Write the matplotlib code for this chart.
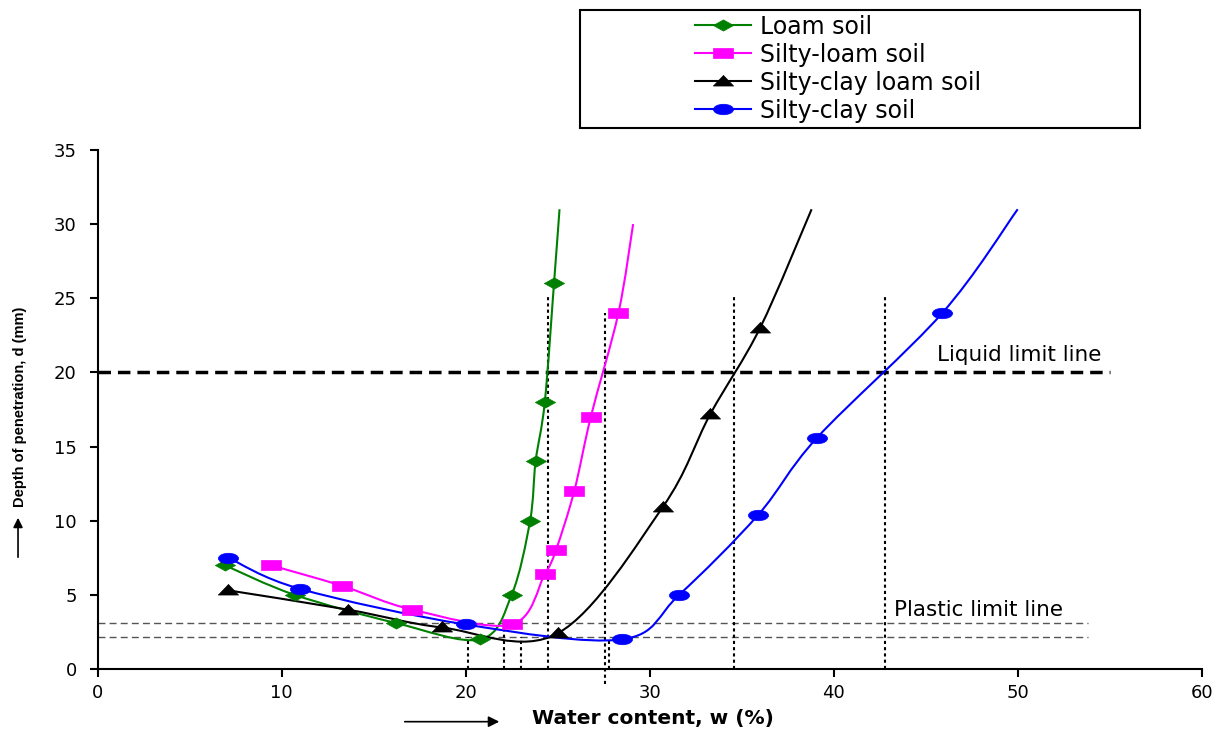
import numpy as np
import matplotlib
matplotlib.use('Agg')
import matplotlib.pyplot as plt
from matplotlib.path import Path
from matplotlib.patches import PathPatch, Rectangle
from matplotlib.lines import Line2D
from matplotlib.transforms import Affine2D

plt.rcParams['font.family'] = ['DejaVu Sans']

# measured points (water content %, penetration mm) + unmarked end of each fitted curve
loam_w = [6.9, 10.7, 16.2, 20.8, 22.5, 23.5, 23.8, 24.3, 24.8]
loam_d = [7.0, 5.0, 3.1, 2.0, 5.0, 10.0, 14.0, 18.0, 26.0]
loam_end = (25.1, 31.0)

siltloam_w = [9.4, 13.3, 17.1, 22.5, 24.3, 24.9, 25.9, 26.8, 28.3]
siltloam_d = [7.0, 5.6, 4.0, 3.0, 6.4, 8.0, 12.0, 17.0, 24.0]
siltloam_end = (29.1, 30.0)

siltclayloam_w = [7.1, 13.6, 18.7, 25.0, 30.7, 33.3, 36.0]
siltclayloam_d = [5.3, 4.0, 2.8, 2.4, 10.9, 17.2, 23.0]
siltclayloam_end = (38.8, 31.0)

siltclay_w = [7.1, 11.0, 20.0, 28.5, 31.6, 35.9, 39.1, 45.9]
siltclay_d = [7.5, 5.4, 3.0, 2.0, 5.0, 10.4, 15.6, 24.0]
siltclay_end = (50.0, 31.0)

labels = ['Loam soil', 'Silty-loam soil', 'Silty-clay loam soil', 'Silty-clay soil']

# reference lines
liquid_limit = 20
liquid_xmax = 55
plastic_levels = [3.1, 2.15]
plastic_xmax = 53.8
# (w, top, bottom) of the dotted read-off lines
readoff = [(20.15, 2.15, 0), (22.1, 3.1, 0), (23.0, 2.15, 0), (24.5, 25.1, 0),
           (27.55, 24.0, -1.0), (27.8, 2.0, 0), (34.6, 25.1, 0), (42.8, 25.1, 0)]

# markers are squashed (wide) in the original
diamond = Path([(-1.8, 0), (0, 1), (1.8, 0), (0, -1), (-1.8, 0)])
square = Path([(-1, -0.5), (1, -0.5), (1, 0.5), (-1, 0.5), (-1, -0.5)])
triangle = Path([(-1, -0.45), (1, -0.45), (0, 0.6), (-1, -0.45)])
ellipse = Path.unit_circle().transformed(Affine2D().scale(1.0, 0.52))
MS = 14.5


def smooth_path(xs, ys):
    # Excel-like smoothed line: cubic bezier segments through every point
    pts = np.column_stack([xs, ys])
    n = len(pts)
    verts, codes = [pts[0]], [Path.MOVETO]
    for i in range(n - 1):
        p0, p1, p2, p3 = pts[max(i - 1, 0)], pts[i], pts[i + 1], pts[min(i + 2, n - 1)]
        verts += [p1 + (p2 - p0) / 6, p2 - (p3 - p1) / 6, p2]
        codes += [Path.CURVE4] * 3
    return Path(verts, codes)


fig = plt.figure(figsize=(12.18, 7.30), dpi=100)
ax = fig.add_axes([0.0802, 0.0836, 0.9064, 0.7110])

series = [
    (loam_w, loam_d, loam_end, '#008000', diamond),
    (siltloam_w, siltloam_d, siltloam_end, '#FF00FF', square),
    (siltclayloam_w, siltclayloam_d, siltclayloam_end, 'black', triangle),
    (siltclay_w, siltclay_d, siltclay_end, '#0000FF', ellipse),
]

handles = []
for (w, d, end, c, m), lab in zip(series, labels):
    ax.add_patch(PathPatch(smooth_path(list(w) + [end[0]], list(d) + [end[1]]),
                           fill=False, edgecolor=c, lw=1.5, zorder=3))
    ax.plot(w, d, ls='none', marker=m, ms=MS, color=c, mec=c, mew=0.5, zorder=4)
    handles.append(Line2D([], [], color=c, lw=1.5, marker=m, ms=MS, mec=c, mew=0.5, label=lab))

ax.plot([0, liquid_xmax], [liquid_limit, liquid_limit], color='black', lw=2.5,
        ls=(0, (3.6, 2.0)), zorder=2)
for lv in plastic_levels:
    ax.plot([0, plastic_xmax], [lv, lv], color='#555555', lw=1.0, ls=(0, (5, 3)), zorder=2)
for w, top, bot in readoff:
    ax.plot([w, w], [bot, top], color='black', lw=1.5, ls=(0, (1.5, 1.5)), zorder=2,
            clip_on=False)

ax.text(45.6, 21.15, 'Liquid limit line', fontsize=15.5, ha='left', va='center')
ax.text(43.3, 4.0, 'Plastic limit line', fontsize=15.5, ha='left', va='center')

ax.set_xlim(0, 60)
ax.set_ylim(0, 35)
ax.set_xticks(range(0, 61, 10))
ax.set_yticks(range(0, 36, 5))
for s in ['top', 'right']:
    ax.spines[s].set_visible(False)
for s in ['left', 'bottom']:
    ax.spines[s].set_linewidth(1.5)
ax.tick_params(direction='out', length=6, width=1.5, labelsize=13)
ax.tick_params(axis='y', pad=9)
ax.tick_params(axis='x', pad=5)

# axis titles with their arrows
fig.text(0.536, 0.0164, 'Water content, w (%)', fontsize=14.5, fontweight='bold',
         ha='center', va='center')
ax.annotate('', xy=(0.4122, 0.0114), xytext=(0.330, 0.0114), xycoords='figure fraction',
            textcoords='figure fraction',
            arrowprops=dict(arrowstyle='-|>', color='black', lw=1.2, mutation_scale=16))
fig.text(0.0164, 0.4425, 'Depth of penetration, d (mm)', fontsize=10.5, fontweight='bold',
         rotation=90, ha='center', va='center',
         family=['Liberation Sans Narrow', 'Liberation Sans'])
ax.annotate('', xy=(0.0148, 0.2945), xytext=(0.0148, 0.2329), xycoords='figure fraction',
            textcoords='figure fraction',
            arrowprops=dict(arrowstyle='-|>', color='black', lw=1.2, mutation_scale=14))

# legend, boxed separately because the original box is much wider than its content
fig.legend(handles=handles, loc='upper left', bbox_to_anchor=(0.571, 0.980),
           frameon=False, fontsize=17, handlelength=2.37, handletextpad=0.38,
           labelspacing=0.17, borderpad=0, borderaxespad=0)
fig.add_artist(Rectangle((0.4762, 0.8247), 0.4598, 0.1616, transform=fig.transFigure,
                         fill=False, edgecolor='black', lw=1.5))

fig.savefig('out.png', dpi=100)
